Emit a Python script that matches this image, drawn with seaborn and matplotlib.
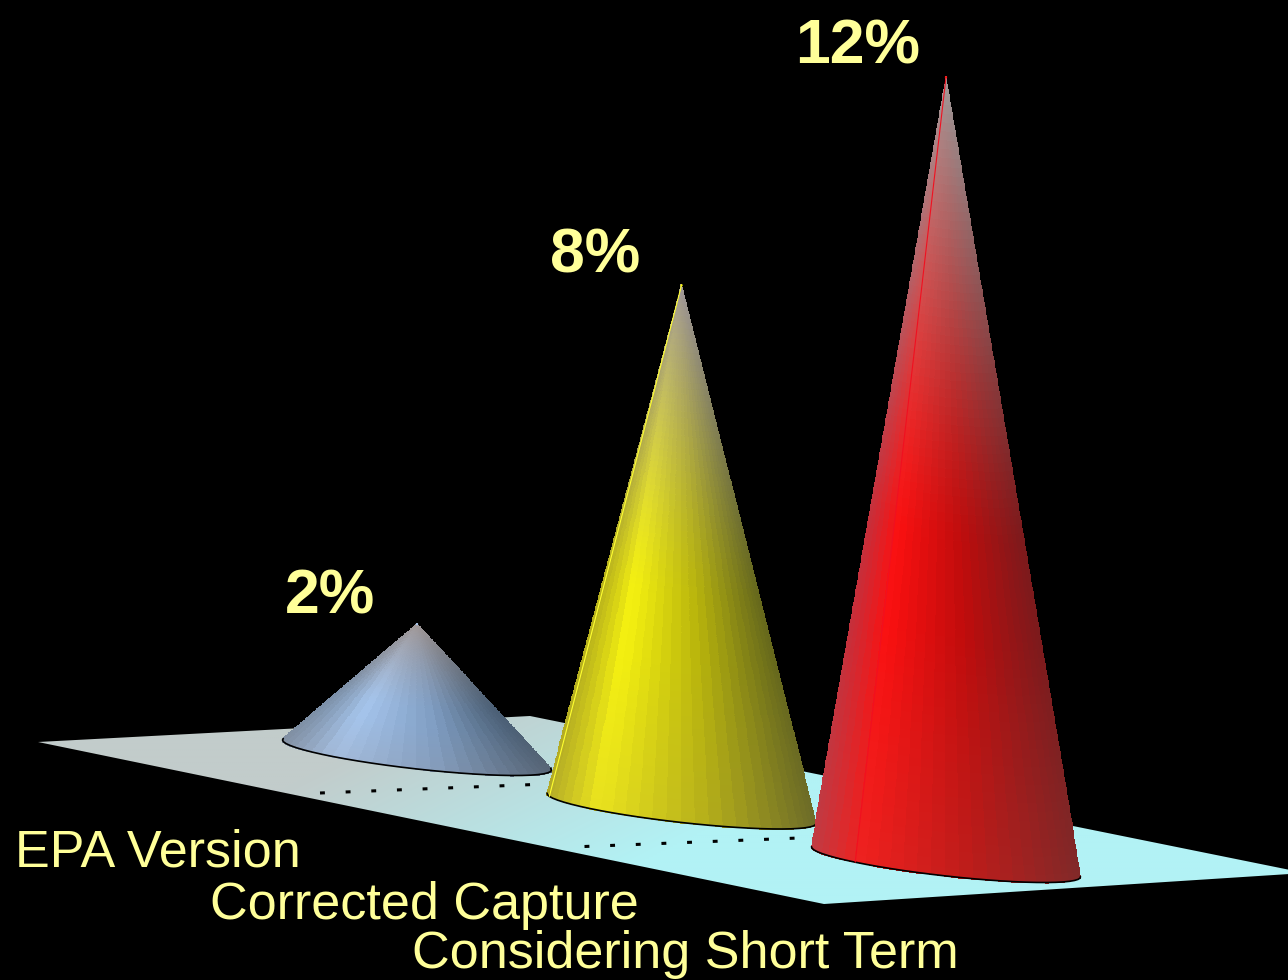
import numpy as np
import pandas as pd
import matplotlib
matplotlib.use("Agg")
import matplotlib.pyplot as plt
from matplotlib.colors import to_rgb
from matplotlib.patches import Polygon
import seaborn as sns

# ---- data ----
categories = ["EPA Version", "Corrected Capture", "Considering Short Term"]
values = [2, 8, 12]
value_labels = ["2%", "8%", "12%"]

# ---- styles ----
TEXT = "#ffff99"
ramps = {
    "EPA Version": ["#7c90a8", "#a6c5ec", "#7f9dc2", "#4c6076"],
    "Corrected Capture": ["#b4ae1c", "#f6f210", "#b8b40c", "#66681c"],
    "Considering Short Term": ["#c4303c", "#fb1010", "#c00c0c", "#7c1a1c"],
}
seam = {"Corrected Capture": (0.01, "#ffff30"), "Considering Short Term": (0.145, "#f01020")}
apex_grey = np.array(to_rgb("#a09898"))
muted = np.array(to_rgb("#a08878"))
ramp_pos = [0.0, 0.19, 0.6, 1.0]

# oblique projection of the chart's floor onto the picture
X0, DX, Y0, DY, PX_PER_PCT = 417.0, 264.5, 755.0, 53.5, 65.4
AX, AY, BY = 134.5, 15.0, 14.0
value_label_pos = [(330, 613), (595, 272), (858, 63)]


def base_xy(i):
    return X0 + DX * i, Y0 + DY * i


sns.set_theme(style="dark", rc={"figure.facecolor": "black", "axes.facecolor": "black",
                                "savefig.facecolor": "black"})
plt.rcParams["font.family"] = ["Liberation Sans", "DejaVu Sans"]

fig = plt.figure(figsize=(12.88, 9.8), dpi=100)
ax = fig.add_axes([0, 0, 1, 1])

# floor
floor = Polygon([(38, 742), (530, 716), (1305, 873), (824, 904)], closed=True,
                transform=ax.transData, fc="none", ec="none")
ax.add_patch(floor)
gx, gy = np.meshgrid(np.arange(0, 1320, 2.0), np.arange(700, 910, 2.0))
g = np.clip((gx - 400) / 500 + (gy - 730) / 250, 0, 1)[..., None]
img = (1 - g) * np.array(to_rgb("#c2cccb")) + g * np.array(to_rgb("#b2f2f5"))
im = ax.imshow(img, extent=(0, 1320, 910, 700), aspect="auto", interpolation="bilinear", zorder=1)
im.set_clip_path(floor)

# dotted guide lines on the floor
for i in (0, 1):
    cx, cy = base_xy(i)
    ax.plot([cx - 97, cx + 130], [cy + 38, cy + 29], color="black", lw=2.2,
            ls=(0, (1.6, 6.8)), zorder=2)

# cones
frame = pd.DataFrame({"category": categories, "value": values})
frame["x"] = [base_xy(i)[0] for i in range(len(values))]
frame["top"] = [base_xy(i)[1] - v * PX_PER_PCT for i, v in enumerate(values)]

for i, row in frame.iterrows():
    cx, cy = base_xy(i)
    apex = np.array([row["x"], row["top"]])
    tt = np.linspace(0, 2 * np.pi, 3000)
    ex = cx + AX * np.cos(tt)
    ey = cy + AY * np.cos(tt) + BY * np.sin(tt)
    ang = np.arctan2(ex - apex[0], ey - apex[1])
    t_right = tt[np.argmax(ang)]
    t_left = tt[np.argmin(ang)]
    if t_left < t_right:
        t_left += 2 * np.pi
    t = np.linspace(t_left, t_right, 31)
    px = cx + AX * np.cos(t)
    py = cy + AY * np.cos(t) + BY * np.sin(t)

    s = np.linspace(0, 1, 91)
    X = px[None, :] + s[:, None] * (apex[0] - px[None, :])
    Y = py[None, :] + s[:, None] * (apex[1] - py[None, :])

    u = (0.5 * (px[:-1] + px[1:]) - (cx - AX)) / (2 * AX)
    stops = np.array([to_rgb(c) for c in ramps[row["category"]]])
    side = np.stack([np.interp(u, ramp_pos, stops[:, k]) for k in range(3)], axis=-1)
    sc = 0.5 * (s[:-1] + s[1:])
    fade = (np.clip((sc - 0.42) / 0.58, 0, 1) ** 1.3)[:, None, None]
    low = (0.14 * np.clip((0.3 - sc) / 0.3, 0, 1))[:, None, None]
    rgb = (1 - fade - low) * side[None, :, :] + fade * apex_grey + low * muted
    ax.pcolormesh(X, Y, rgb, shading="flat", zorder=3 + i, antialiased=False,
                  edgecolors="face", linewidth=0.25)
    ax.plot(px, py, color="black", lw=1.2, zorder=3 + i)

    if row["category"] in seam:
        us, col = seam[row["category"]]
        sx = cx - AX + 2 * AX * us
        idx = np.argmin(np.abs(px - sx))
        ax.plot([px[idx], apex[0]], [py[idx], apex[1]], color=col, lw=0.8, zorder=3 + i)

    lx, ly = value_label_pos[i]
    ax.text(lx, ly, value_labels[i], color=TEXT, fontsize=45, fontweight="bold",
            ha="center", va="baseline", zorder=10)

# apex markers placed through seaborn
sns.scatterplot(data=frame, x="x", y="top", hue="category", legend=False, s=3, linewidth=0,
                palette={k: v[1] for k, v in ramps.items()}, ax=ax, zorder=12)

# category labels
label_pos = [(15, 866), (210, 919), (412, 968)]
for name, (lx, ly) in zip(categories, label_pos):
    ax.text(lx, ly, name, color=TEXT, fontsize=37.5, ha="left", va="baseline", zorder=10)

ax.set_xlim(0, 1288)
ax.set_ylim(980, 0)
ax.set_axis_off()
fig.savefig("out.png", dpi=100, facecolor="black")
